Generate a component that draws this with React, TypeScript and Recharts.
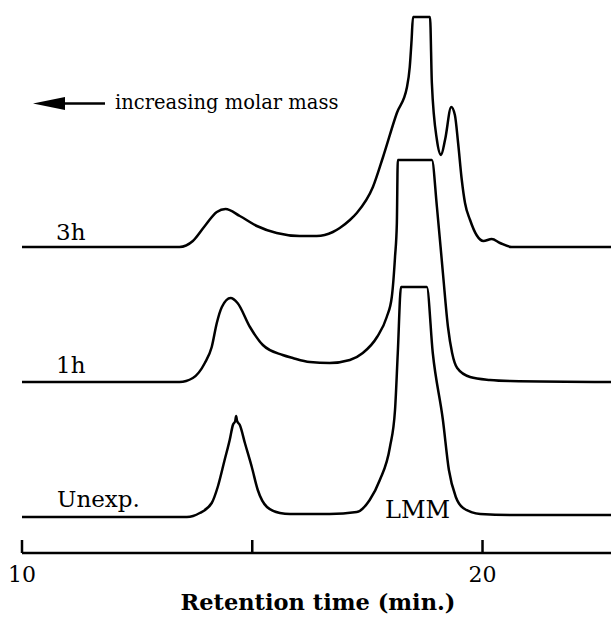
import React from "react";
import { LineChart, Line, XAxis, YAxis } from "recharts";

// retention time (min) and detector signal above each trace's own baseline
const time3h = [10, 13.42, 13.71, 13.97, 14.23, 14.42, 14.73, 15.1, 15.53, 16.03, 16.4, 16.75, 16.9, 17.12, 17.27, 17.62, 17.84, 18.14, 18.36, 18.42, 18.46, 18.49, 18.86, 18.9, 19.01, 19.1, 19.19, 19.32, 19.4, 19.47, 19.55, 19.62, 19.73, 19.87, 20.02, 20.2, 20.38, 20.63, 22.79];
const signal3h = [0, 0, 6, 21, 35, 38, 31, 21, 14, 11, 11, 15, 19, 27, 34, 60, 90, 134, 160, 180, 207, 230, 230, 164, 107, 92, 108, 140, 132, 104, 67, 44, 27, 12, 6, 8, 4, 0, 0];

const time1h = [10, 13.42, 13.71, 13.97, 14.12, 14.23, 14.34, 14.53, 14.68, 14.95, 15.23, 15.66, 15.88, 16.25, 16.68, 17.12, 17.4, 17.71, 17.92, 18.03, 18.1, 18.14, 18.16, 18.9, 19.01, 19.14, 19.25, 19.34, 19.45, 19.73, 20.16, 20.6, 22.79];
const signal1h = [0, 0, 4, 19, 35, 59, 75, 84, 79, 55, 37, 27, 24, 20, 19, 22, 29, 45, 65, 85, 125, 159, 222, 222, 175, 109, 55, 29, 14, 5, 2, 1, 0];

const timeUnexp = [10, 13.58, 13.86, 14.12, 14.25, 14.4, 14.51, 14.58, 14.63, 14.65, 14.67, 14.73, 14.84, 14.99, 15.12, 15.32, 15.6, 15.82, 16.68, 17.27, 17.55, 17.77, 17.99, 18.1, 18.16, 18.23, 18.79, 18.92, 19.14, 19.27, 19.42, 19.58, 19.95, 20.6, 22.79];
const signalUnexp = [0, 0, 4, 14, 30, 57, 77, 92, 96, 101, 96, 92, 74, 50, 27, 10, 4, 3, 3, 5, 17, 37, 70, 107, 164, 230, 230, 164, 97, 47, 20, 9, 3, 2, 2];

const xTicks = [10, 15, 20];
const xTickLabels = ["10", "", "20"];

// vertical offset of each trace (stacked display)
const BASE_3H = 306;
const BASE_1H = 171;
const BASE_UNEXP = 36;

const toRows = (ts: number[], vs: number[], base: number) =>
  ts.map((t, i) => ({ t, v: vs[i] + base }));

const FONT = "'DejaVu Serif', serif";

const AxisTick = (props: any) => {
  const { x, y, index } = props;
  const label = xTickLabels[index] ?? "";
  return (
    <g>
      <line x1={x} x2={x} y1={y} y2={y - 13} stroke="#000" strokeWidth={2.5} />
      {label && (
        <text x={x} y={y + 29} textAnchor="middle" fontFamily={FONT} fontSize={22} fill="#000">
          {label}
        </text>
      )}
    </g>
  );
};

export default function App() {
  const rows3h = toRows(time3h, signal3h, BASE_3H);
  const rows1h = toRows(time1h, signal1h, BASE_1H);
  const rowsUnexp = toRows(timeUnexp, signalUnexp, BASE_UNEXP);

  return (
    <div style={{ position: "absolute", left: 0, top: 0, width: 611, height: 617, background: "#fff" }}>
      <LineChart width={611} height={617} margin={{ top: 0, right: 0, bottom: 0, left: 22 }}>
        <XAxis
          type="number"
          dataKey="t"
          domain={[10, 22.79]}
          ticks={xTicks}
          allowDataOverflow
          height={64}
          tickSize={0}
          tickMargin={0}
          tickLine={false}
          axisLine={{ stroke: "#000", strokeWidth: 2.5 }}
          tick={<AxisTick />}
          interval={0}
        />
        <YAxis type="number" domain={[0, 553]} hide allowDataOverflow />
        <Line data={rows3h} dataKey="v" type="monotone" stroke="#000" strokeWidth={2.5} dot={false} isAnimationActive={false} />
        <Line data={rows1h} dataKey="v" type="monotone" stroke="#000" strokeWidth={2.5} dot={false} isAnimationActive={false} />
        <Line data={rowsUnexp} dataKey="v" type="monotone" stroke="#000" strokeWidth={2.5} dot={false} isAnimationActive={false} />
      </LineChart>
      <svg width={611} height={617} style={{ position: "absolute", left: 0, top: 0, pointerEvents: "none" }}>
        <polygon points="33,103.5 65,97 65,110" fill="#000" />
        <line x1={63} x2={105} y1={103.5} y2={103.5} stroke="#000" strokeWidth={2.5} />
        <text x={115} y={109} fontFamily={FONT} fontSize={19.5} fill="#000">increasing molar mass</text>
        <text x={56} y={240} fontFamily={FONT} fontSize={23} fill="#000">3h</text>
        <text x={56} y={373} fontFamily={FONT} fontSize={23} fill="#000">1h</text>
        <text x={57} y={507} fontFamily={FONT} fontSize={23} fill="#000">Unexp.</text>
        <text x={385} y={518} fontFamily={FONT} fontSize={24} fill="#000">LMM</text>
        <text x={318} y={610} textAnchor="middle" fontFamily={FONT} fontWeight="bold" fontSize={22.5} fill="#000">
          Retention time (min.)
        </text>
      </svg>
    </div>
  );
}
